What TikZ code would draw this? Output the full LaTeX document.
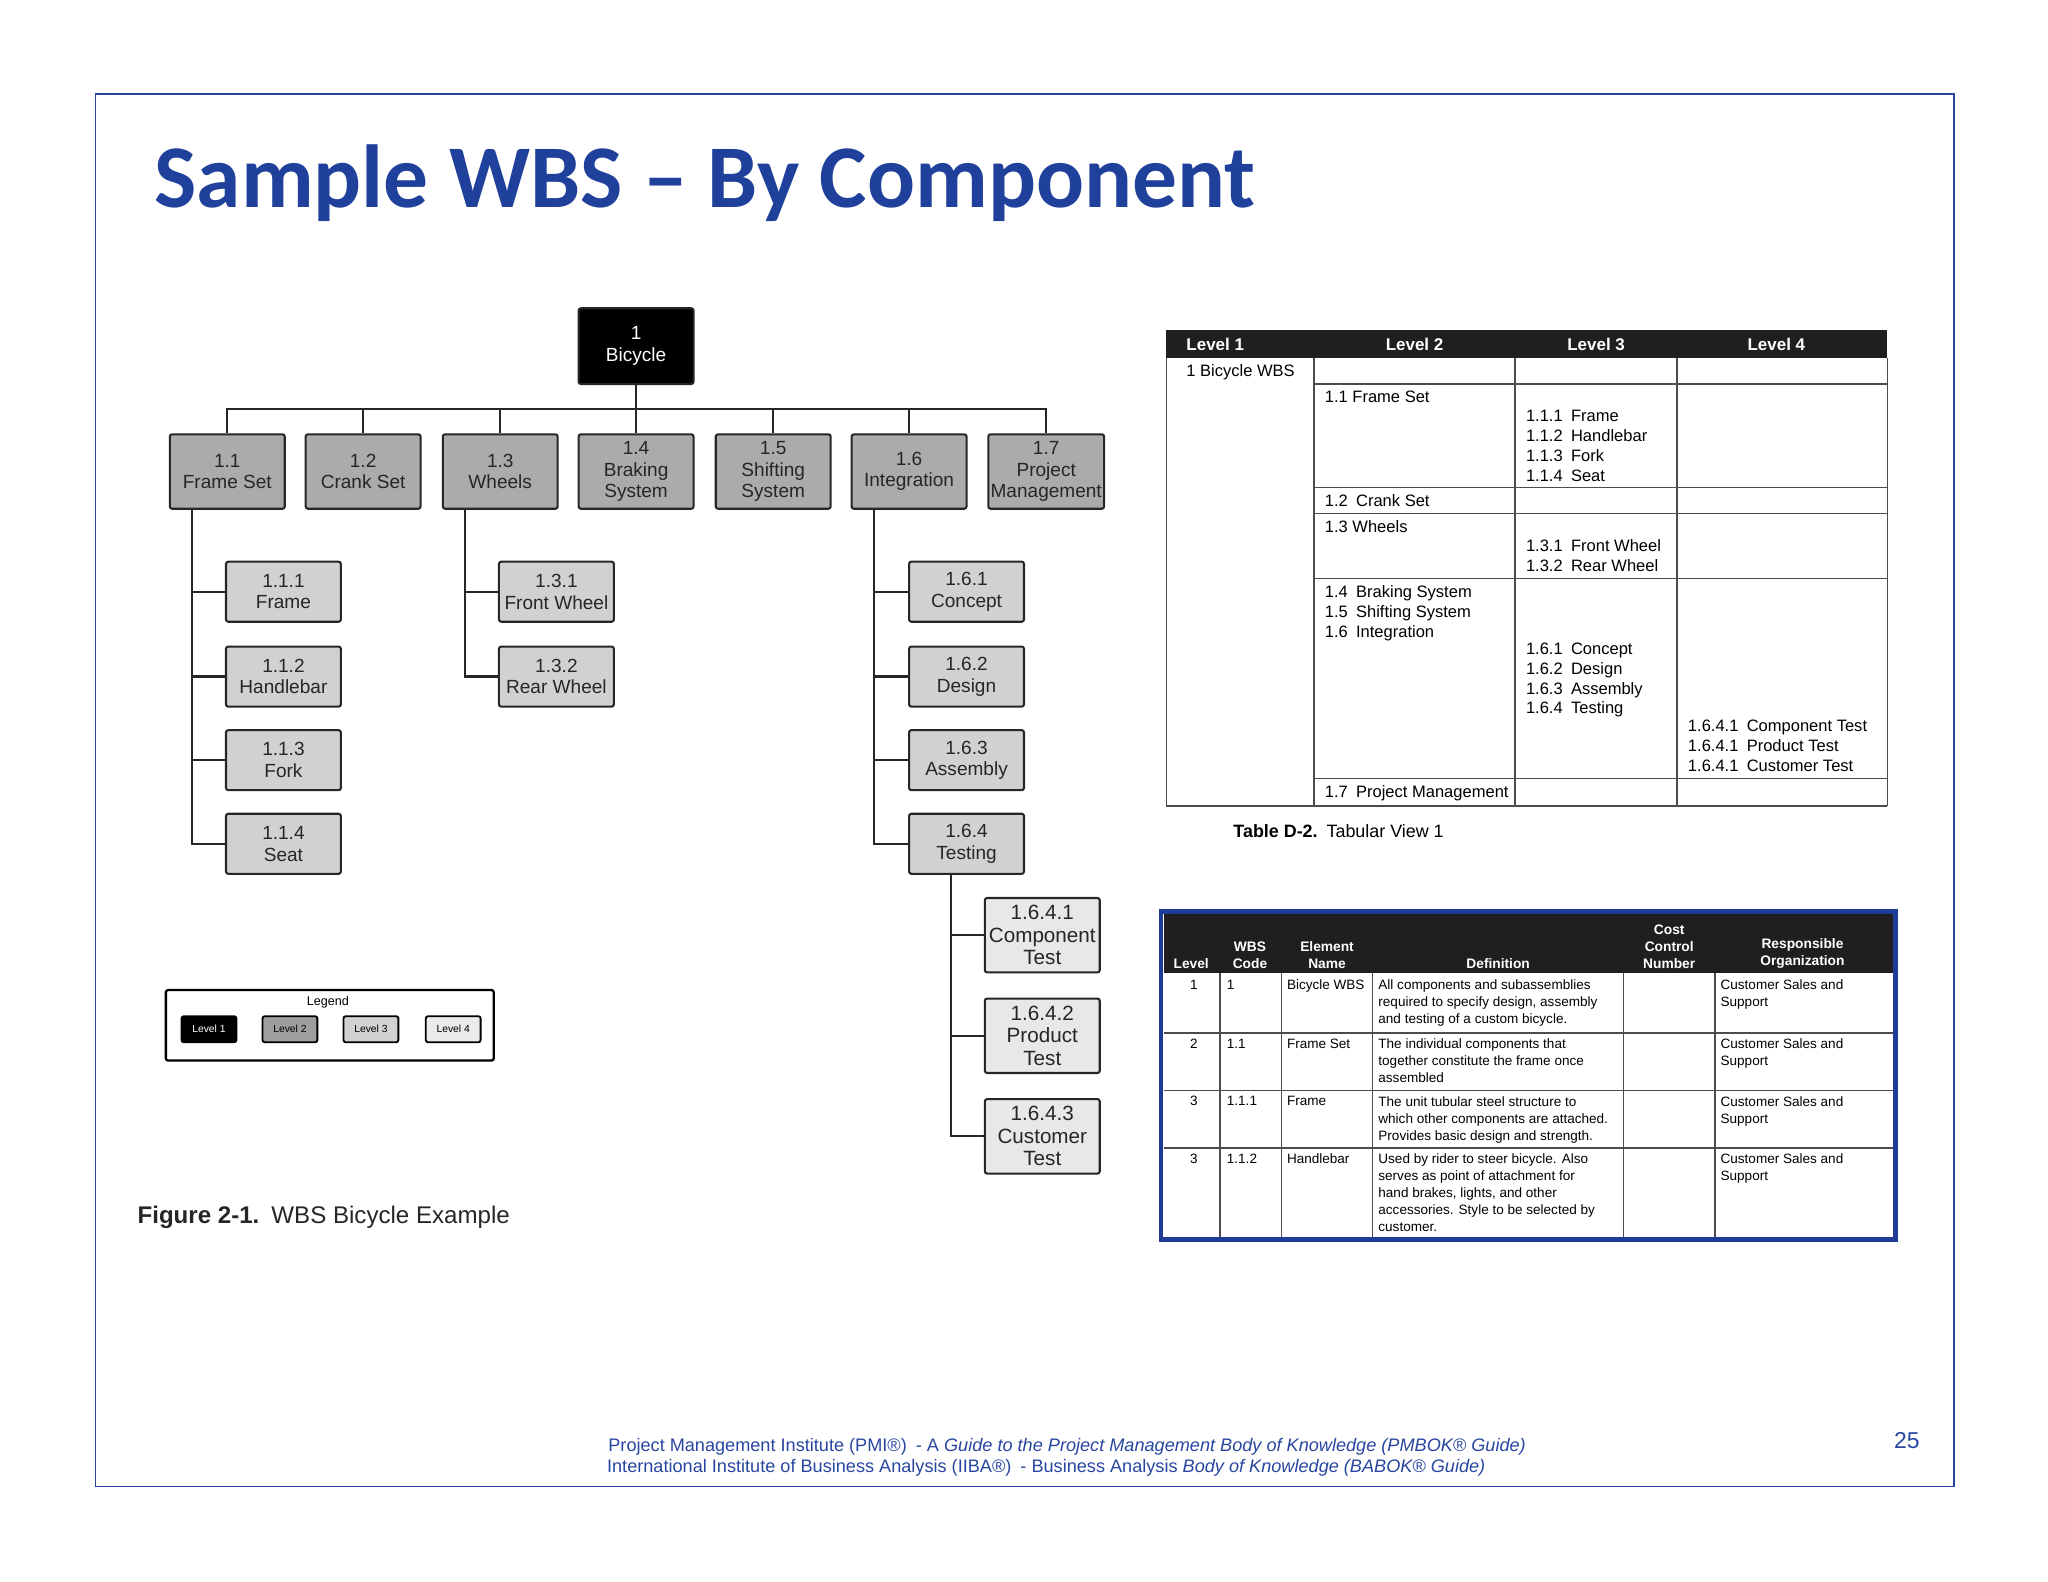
\documentclass[tikz,border=0pt]{standalone}
\usepackage{fontspec}
\setmainfont{Liberation Sans}
\newfontfamily\titlef{Carlito}
\definecolor{ttl}{RGB}{31,64,155}
\definecolor{ftb}{RGB}{40,70,160}
\definecolor{tbb}{RGB}{30,60,150}
\begin{document}
\begin{tikzpicture}[x=0.02cm,y=-0.02cm,
 box/.style={draw=black!85,line width=0.9pt,rounded corners=1pt,align=center,font=\fontsize{8.3}{9.4}\selectfont,inner sep=1pt,text=black!85},
 l1/.style={box,fill=black,text=white,minimum width=1.76cm,minimum height=1.16cm},
 l2/.style={box,fill=black!33,minimum width=1.76cm,minimum height=1.14cm},
 l3/.style={box,fill=black!18,minimum width=1.76cm,minimum height=0.92cm},
 l4/.style={box,fill=black!9,minimum width=1.76cm,minimum height=1.14cm,font=\fontsize{9}{9.8}\selectfont},
 lg/.style={draw=black,line width=0.8pt,rounded corners=1pt,minimum width=0.84cm,minimum height=0.4cm,inner sep=0pt,font=\fontsize{4.5}{5}\selectfont},
 con/.style={draw=black!85,line width=1pt},
 tl/.style={draw=black!70,line width=0.6pt},
 tt/.style={anchor=north west,align=left,inner sep=0pt,font=\fontsize{7.2}{8.6}\selectfont},
 th/.style={text=white,font=\bfseries\fontsize{7.4}{8.6}\selectfont,inner sep=0pt},
 t2/.style={anchor=north west,align=left,inner sep=0pt,font=\fontsize{5.9}{7.4}\selectfont},
 h2/.style={anchor=south,align=center,text=white,inner sep=0pt,font=\bfseries\fontsize{6}{7.4}\selectfont},
 foot/.style={text=ftb,font=\fontsize{7.9}{9.5}\selectfont,inner sep=0pt}]
\useasboundingbox (0,0) rectangle (1568,1211);
\draw[draw=ftb,line width=0.6pt] (73,72) rectangle (1496,1138);
\node[anchor=west,inner sep=0pt,text=ttl,font=\titlef\bfseries\fontsize{39}{44}\selectfont] (title) at (118,140) {Sample WBS – By Component};

% tree
\node[l1] (n1) at (487,265) {1\\Bicycle};
\node[l2] (n11) at (174,361) {1.1\\Frame Set};
\node[l2] (n12) at (278,361) {1.2\\Crank Set};
\node[l2] (n13) at (383,361) {1.3\\Wheels};
\node[l2] (n14) at (487,361) {1.4\\Braking\\System};
\node[l2] (n15) at (592,361) {1.5\\Shifting\\System};
\node[l2] (n16) at (696,361) {1.6\\Integration};
\node[l2] (n17) at (801,361) {1.7\\Project\\Management};
\coordinate (bus) at (487,313);
\draw[con] (n1.south) -- (bus);
\draw[con] (n11.north) |- (bus) -| (n17.north);
\foreach \n in {n12,n13,n14,n15,n16} \draw[con] (\n.north) -- (\n.north |- bus);

\node[l3] (n111) at (217,453) {1.1.1\\Frame};
\node[l3] (n112) at (217,518) {1.1.2\\Handlebar};
\node[l3] (n113) at (217,582) {1.1.3\\Fork};
\node[l3] (n114) at (217,646) {1.1.4\\Seat};
\node[l3] (n131) at (426,453) {1.3.1\\Front Wheel};
\node[l3] (n132) at (426,518) {1.3.2\\Rear Wheel};
\node[l3] (n161) at (740,453) {1.6.1\\Concept};
\node[l3] (n162) at (740,518) {1.6.2\\Design};
\node[l3] (n163) at (740,582) {1.6.3\\Assembly};
\node[l3] (n164) at (740,646) {1.6.4\\Testing};
\node[l4] (n1641) at (798,716) {1.6.4.1\\Component\\Test};
\node[l4] (n1642) at (798,793) {1.6.4.2\\Product\\Test};
\node[l4] (n1643) at (798,870) {1.6.4.3\\Customer\\Test};
\coordinate (s11) at (147,390);
\coordinate (s13) at (356,390);
\coordinate (s16) at (669,390);
\coordinate (s164) at (728,669);
\foreach \n in {n111,n112,n113} \draw[con] (s11 |- \n.west) -- (\n.west);
\draw[con] (s11) |- (n114.west);
\draw[con] (s13 |- n131.west) -- (n131.west);
\draw[con] (s13) |- (n132.west);
\foreach \n in {n161,n162,n163} \draw[con] (s16 |- \n.west) -- (\n.west);
\draw[con] (s16) |- (n164.west);
\foreach \n in {n1641,n1642} \draw[con] (s164 |- \n.west) -- (\n.west);
\draw[con] (s164) |- (n1643.west);

% legend
\draw[line width=1pt,rounded corners=1pt] (127,758) rectangle (378,812);
\node[font=\fontsize{5.5}{6}\selectfont,inner sep=0pt] (lgt) at (251,767) {Legend};
\node[lg,fill=black,text=white] (lg1) at (160,788) {Level 1};
\node[lg,fill=black!38] (lg2) at (222,788) {Level 2};
\node[lg,fill=black!18] (lg3) at (284,788) {Level 3};
\node[lg,fill=black!8] (lg4) at (347,788) {Level 4};
\node[anchor=west,inner sep=0pt,font=\fontsize{10.5}{12}\selectfont,text=black!85] (fig) at (105,932) {\textbf{Figure 2-1.}\enspace WBS Bicycle Example};

% table 1
\fill[black!88] (893,253) rectangle (1445,274);
\node[th,anchor=west] at (908,264) {Level 1};
\node[th] at (1083,264) {Level 2};
\node[th] at (1222,264) {Level 3};
\node[th] at (1360,264) {Level 4};
\draw[tl] (893,274) -- (893,617) -- (1445,617);
\draw[tl] (1006,274) -- (1006,617);
\draw[tl] (1160,274) -- (1160,617);
\draw[tl] (1284,274) -- (1284,617);
\draw[tl] (1445,274) -- (1445,617);
\foreach \yy in {294,373,393,443,596} \draw[tl] (1006,\yy) -- (1445,\yy);
\node[tt] at (908,279) {1 Bicycle WBS};
\node[tt] at (1014,299) {1.1 Frame Set};
\node[tt] at (1168,314) {1.1.1\enspace Frame\\1.1.2\enspace Handlebar\\1.1.3\enspace Fork\\1.1.4\enspace Seat};
\node[tt] at (1014,378) {1.2\enspace Crank Set};
\node[tt] at (1014,398) {1.3 Wheels};
\node[tt] at (1168,413) {1.3.1\enspace Front Wheel\\1.3.2\enspace Rear Wheel};
\node[tt] at (1014,448) {1.4\enspace Braking System\\1.5\enspace Shifting System\\1.6\enspace Integration};
\node[tt] at (1168,492) {1.6.1\enspace Concept\\1.6.2\enspace Design\\1.6.3\enspace Assembly\\1.6.4\enspace Testing};
\node[tt] at (1292,551) {1.6.4.1\enspace Component Test\\1.6.4.1\enspace Product Test\\1.6.4.1\enspace Customer Test};
\node[tt] at (1014,601) {1.7\enspace Project Management};
\node[anchor=west,inner sep=0pt,font=\fontsize{7.8}{9}\selectfont] (cap) at (944,636) {\textbf{Table D-2.}\enspace Tabular View 1};

% table 2
\fill[black!88] (891,700) rectangle (1449,745);
\node[h2] at (912,742) {Level};
\node[h2] at (957,742) {WBS\\Code};
\node[h2] at (1016,742) {Element\\Name};
\node[h2] at (1147,742) {Definition};
\node[h2] at (1278,742) {Cost\\Control\\Number};
\node[h2] at (1380,742) {Responsible\\Organization};
\foreach \xx in {934,981,1051,1243,1313} \draw[tl] (\xx,745) -- (\xx,948);
\foreach \yy in {791,835,879} \draw[tl] (891,\yy) -- (1449,\yy);
\draw[draw=tbb,line width=2pt] (889,698) rectangle (1451,949);
\foreach \yy/\a/\b/\c/\d in {
 750/1/1/Bicycle WBS/{All components and subassemblies\\required to specify design, assembly\\and testing of a custom bicycle.},
 795/2/1.1/Frame Set/{The individual components that\\together constitute the frame once\\assembled},
 839/3/1.1.1/Frame/{The unit tubular steel structure to\\which other components are attached.\\Provides basic design and strength.},
 883/3/1.1.2/Handlebar/{Used by rider to steer bicycle. Also\\serves as point of attachment for\\hand brakes, lights, and other\\accessories. Style to be selected by\\customer.}}{
 \node[t2,anchor=north] at (914,\yy) {\a};
 \node[t2] at (939,\yy) {\b};
 \node[t2] at (985,\yy) {\c};
 \node[t2] at (1055,\yy) {\d};
 \node[t2] at (1317,\yy) {Customer Sales and\\Support};
}

% footer
\node[foot] (f1) at (817,1108) {Project Management Institute (PMI®)\enspace - A \textit{Guide to the Project Management Body of Knowledge (PMBOK® Guide)}};
\node[foot] (f2) at (801,1124) {International Institute of Business Analysis (IIBA®)\enspace - Business Analysis \textit{Body of Knowledge (BABOK® Guide)}};
\node[foot,font=\fontsize{10}{11}\selectfont] (pg) at (1460,1103) {25};
\end{tikzpicture}
\end{document}
